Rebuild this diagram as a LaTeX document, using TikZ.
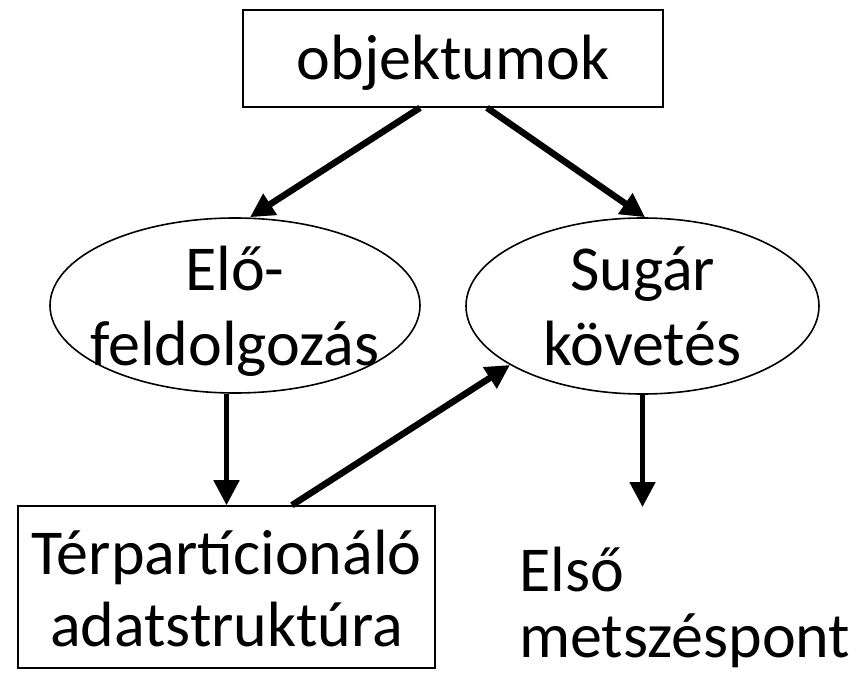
\documentclass[tikz,border=0pt]{standalone}
\usepackage{fontspec}
\setmainfont{Carlito}
\usetikzlibrary{shapes.geometric,arrows.meta,calc}
\begin{document}
\begin{tikzpicture}[
  x=1pt,y=1pt,
  bigtext/.style={font=\fontsize{64}{74}\selectfont, inner sep=0pt},
  boxshape/.style={draw, line width=1.6pt, inner sep=0pt},
  ovalshape/.style={ellipse, draw, line width=1.6pt, inner sep=0pt},
  arr/.style={line width=6.5pt, -{Triangle[length=24pt,width=24pt]}},
  varr/.style={line width=5pt, -{Triangle[length=25pt,width=25pt]}}
]
\useasboundingbox (0,0) rectangle (856,-679);
% shapes
\node[boxshape, minimum width=420pt, minimum height=97pt] (obj) at (453,-58.5) {};
\node[ovalshape, minimum width=370pt, minimum height=175pt] (pre) at (235,-305.5) {};
\node[ovalshape, minimum width=353pt, minimum height=176pt] (sug) at (642.5,-306) {};
\node[boxshape, minimum width=417pt, minimum height=162pt] (tp) at (226.5,-587) {};
% texts
\node[bigtext, anchor=base] (objt) at (453,-80) {objektumok};
\node[bigtext, font=\fontsize{64}{75}\selectfont, align=center, anchor=base] (pret) at (235,-365) {Elő-\\feldolgozás};
\node[bigtext, font=\fontsize{64}{75}\selectfont, align=center, anchor=base] (sugt) at (642.5,-365) {Sugár\\követés};
\node[bigtext, font=\fontsize{64}{72}\selectfont, align=center, anchor=base] (tpt) at (226.5,-646) {Térpartícionáló\\adatstruktúra};
\node[bigtext, font=\fontsize{64}{66}\selectfont, align=left, anchor=base west] (elso) at (519,-657) {Első\\metszéspont};
% connectors
\coordinate (endp) at (642.5,-507);
\draw[arr] ([xshift=-33pt]obj.south) -- ([xshift=15pt]pre.north);
\draw[arr] ([xshift=34pt]obj.south) -- ([xshift=2.5pt]sug.north);
\draw[varr] (pre.south -| tp.north) -- (tp.north);
\draw[varr] (sug.south) -- (endp);
\draw[arr] ([xshift=65.5pt]tp.north) -- (sug.204);
\end{tikzpicture}
\end{document}
